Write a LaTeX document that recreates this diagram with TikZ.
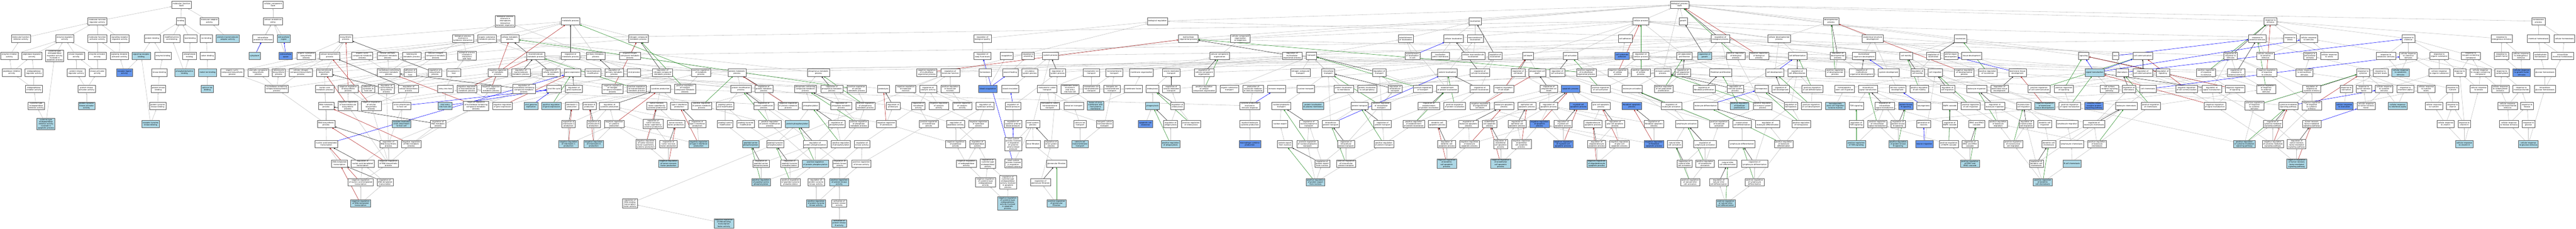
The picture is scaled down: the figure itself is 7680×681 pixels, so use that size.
\documentclass[tikz,border=0pt]{standalone}
\usepackage{fontspec}
\setmainfont{DejaVu Sans}
\usetikzlibrary{arrows.meta,backgrounds}
\definecolor{hitblue}{RGB}{173,216,230}
\definecolor{coreblue}{RGB}{100,149,237}
\definecolor{isagray}{RGB}{192,192,192}
\definecolor{negred}{RGB}{178,34,34}
\definecolor{posgreen}{RGB}{34,139,34}
\definecolor{partblue}{RGB}{0,0,255}
\tikzset{
  term/.style={draw=black!65, fill=white, line width=0.8pt, font=\fontsize{5.4}{6.3}\selectfont,
    align=center, inner xsep=3pt, inner ysep=1.5pt, minimum height=22pt},
  hit/.style={term, fill=hitblue},
  core/.style={term, fill=coreblue},
  isa/.style={draw=isagray, line width=0.85pt, -{Triangle[length=4.5pt,width=3.8pt]}},
  regs/.style={isa, draw=black!85},
  negreg/.style={isa, draw=negred},
  posreg/.style={isa, draw=posgreen},
  partof/.style={isa, draw=partblue},
}
\begin{document}
\begin{tikzpicture}[x=1pt,y=-1pt]
\useasboundingbox (0,0) rectangle (7680,681);
\begin{pgfonlayer}{background}
\fill[white] (0,0) rectangle (7680,681);
\end{pgfonlayer}
% molecular function
\node[term] (mf) at (541,14) {molecular\_function\\0ac6};
\node[term] (mfreg) at (290,63) {molecular function\\regulator activity};
\node[term] (binding) at (539,63) {binding};
\node[term] (mfadapt) at (624,63) {molecular adaptor\\activity};
\node[term] (mfinhib) at (62,115) {molecular function\\inhibitor activity};
\node[term] (enzreg) at (193,115) {enzyme regulator\\activity};
\node[term] (mfact) at (290,115) {molecular function\\activator activity};
\node[term] (sigrecreg) at (357,115) {signaling receptor\\regulator activity};
\node[term] (protbind) at (454,115) {protein binding};
\node[term] (modaa) at (512,115) {modified amino\\acid binding};
\node[term] (lipidbind) at (567,115) {lipid binding};
\node[term] (ionbind) at (615,115) {ion binding};
\node[hit] (protmacadapt) at (679,115) {protein-macromolecule\\adaptor activity};
\node[term] (enzinhib) at (28,166) {enzyme inhibitor\\activity};
\node[term] (pepreg) at (95,166) {peptidase regulator\\activity};
\node[term] (cyspepreg) at (163,166) {cysteine-type\\endopeptidase\\regulator activity\\involved in\\apoptotic process};
\node[term] (kinreg) at (227,166) {kinase regulator\\activity};
\node[term] (enzact) at (290,166) {enzyme activator\\activity};
\node[term] (sigrecact) at (356,166) {signaling receptor\\activator activity};
\node[hit] (sigrecbind) at (421,166) {signaling receptor\\binding};
\node[term] (enzbind) at (486,166) {enzyme binding};
\node[term] (phospholipid) at (565,166) {phospholipid\\binding};
\node[term] (cationbind) at (618,166) {cation binding};
\node[term] (pepinhib) at (35,216) {peptidase inhibitor\\activity};
\node[term] (endopepreg) at (101,216) {endopeptidase\\regulator activity};
\node[term] (protkinreg) at (227,216) {protein kinase\\regulator activity};
\node[term] (kinact) at (290,216) {kinase activator\\activity};
\node[core] (recligand) at (371,216) {receptor ligand\\activity};
\node[term] (kinbind) at (475,216) {kinase binding};
\node[hit] (psbind) at (550,216) {phosphatidylserine\\binding};
\node[hit] (metalion) at (619,216) {metal ion binding};
\node[term] (endopepinhib) at (101,265) {endopeptidase\\inhibitor activity};
\node[term] (protkinact) at (258,265) {protein kinase\\activator activity};
\node[term] (protkinbind) at (472,265) {protein kinase\\binding};
\node[hit] (calcium) at (618,265) {calcium ion\\binding};
\node[term] (cysendoinhib) at (108,315) {cysteine-type\\endopeptidase\\inhibitor activity};
\node[hit] (ptkact) at (258,315) {protein tyrosine\\kinase activator\\activity};
\node[term] (ptkbind) at (470,315) {protein tyrosine\\kinase binding};
\node[hit] (cysendoinhibapo) at (137,369) {cysteine-type\\endopeptidase\\inhibitor activity\\involved in\\apoptotic process};
\node[hit] (rtkbind) at (449,369) {receptor tyrosine\\kinase binding};
% cellular component
\node[term] (cc) at (814,14) {cellular\_component\\0ac6};
\node[term] (ccanat) at (814,63) {cellular anatomical\\entity};
\node[term] (intranat) at (784,115) {intracellular\\anatomical structure};
\node[hit] (extrareg) at (846,115) {extracellular\\region};
\node[hit] (cytoplasm) at (759,166) {cytoplasm};
\node[core] (extraspace) at (852,166) {extracellular\\space};
% biological process
\node[term] (biosyn) at (1031,115) {biosynthetic\\process};
\node[term] (bpinvsym) at (1380,115) {biological process\\involved in\\symbiotic interaction};
\node[term] (orgsubbio) at (913,166) {organic substance\\biosynthetic\\process};
\node[term] (cellbio) at (983,166) {cellular biosynthetic\\process};
\node[term] (orgcyc) at (1080,166) {organic cyclic\\compound metabolic\\process};
\node[term] (cellarom) at (1156,166) {cellular aromatic\\compound metabolic\\process};
\node[term] (hetero) at (1227,166) {heterocycle\\metabolic process};
\node[term] (cellnitro) at (1299,166) {cellular nitrogen\\compound metabolic\\process};
\node[term] (bpinvhost) at (1392,166) {biological process\\involved in\\interaction\\with host};
\node[term] (orgcycbio) at (692,216) {organic cyclic\\compound biosynthetic\\process};
\node[term] (aromcomp) at (770,216) {aromatic compound\\biosynthetic\\process};
\node[term] (heterobio) at (831,216) {heterocycle\\biosynthetic\\process};
\node[term] (cellnitrobio) at (897,216) {cellular nitrogen\\compound biosynthetic\\process};
\node[term] (macrobio) at (967,216) {macromolecule\\biosynthetic\\process};
\node[term] (nucleomet) at (1159,216) {nucleobase-containing\\compound metabolic\\process};
\node[term] (adhsym) at (1223,216) {adhesion of\\symbiont to\\host};
\node[term] (regbio) at (1297,216) {regulation of\\biosynthetic\\process};
\node[term] (movhost) at (1353,216) {movement in\\host};
\node[term] (nucleobio) at (825,265) {nucleobase-containing\\compound biosynthetic\\process};
\node[term] (nucmet) at (968,265) {nucleic acid\\metabolic process};
\node[term] (negregbio) at (1038,265) {negative regulation\\of biosynthetic\\process};
\node[term] (adhsymcell) at (1098,265) {adhesion of\\symbiont to\\host cell};
\node[term] (regmacbio) at (1152,265) {regulation of\\macromolecule\\biosynthetic\\process};
\node[term] (regcellbio) at (1218,265) {regulation of\\cellular biosynthetic\\process};
\node[term] (entryhost) at (1328,265) {entry into host};
\node[term] (negregmacmet) at (1392,265) {negative regulation\\of macromolecule\\metabolic process};
\node[term] (rnamet) at (972,315) {RNA metabolic\\process};
\node[term] (negregmacbio) at (1037,315) {negative regulation\\of macromolecule\\biosynthetic\\process};
\node[term] (negregcellbio) at (1107,315) {negative regulation\\of cellular\\biosynthetic\\process};
\node[term] (virionattach) at (1198,315) {virion attachment\\to host cell};
\node[hit] (viralentry) at (1327,315) {viral entry\\into host cell};
\node[term] (negregnuc) at (1419,315) {negative regulation\\of nucleobase-containing\\compound metabolic\\process};
\node[term] (rnabio) at (972,369) {RNA biosynthetic\\process};
\node[hit] (recvirion) at (1197,369) {receptor-mediated\\virion attachment\\to host cell};
\node[term] (regrnamet) at (1306,369) {regulation of\\RNA metabolic\\process};
\node[term] (nucatemp) at (973,429) {nucleic acid-templated\\transcription};
\node[term] (regrnabio) at (1158,429) {regulation of\\RNA biosynthetic\\process};
\node[term] (negregrnamet) at (1226,429) {negative regulation\\of RNA metabolic\\process};
\node[term] (dnatemp) at (1012,487) {DNA-templated\\transcription};
\node[term] (regnucatemp) at (1081,487) {regulation of\\nucleic acid-templated\\transcription};
\node[term] (negregrnabio) at (1158,487) {negative regulation\\of RNA biosynthetic\\process};
\node[term] (negregnucatemp) at (1075,543) {negative regulation\\of nucleic acid-templated\\transcription};
\node[term] (regdnatemp) at (1148,543) {regulation of\\DNA-templated\\transcription};
\node[hit] (negregdnatemp) at (1075,606) {negative regulation\\of DNA-templated\\transcription};
\node[term] (bpinter) at (1506,63) {biological process\\involved in\\interspecies\\interaction\\between organisms};
\node[term] (metab) at (1701,63) {metabolic process};
\node[term] (orgsubmet) at (1452,115) {organic substance\\metabolic process};
\node[term] (cellmet) at (1520,115) {cellular metabolic\\process};
\node[term] (nitromet) at (1903,115) {nitrogen compound\\metabolic process};
\node[term] (macromet) at (1597,166) {macromolecule\\metabolic process};
\node[term] (regmet) at (1701,166) {regulation of\\metabolic process};
\node[term] (primmet) at (1776,166) {primary metabolic\\process};
\node[term] (orgnitro) at (1878,166) {organonitrogen\\compound metabolic\\process};
\node[term] (negregmet) at (1484,216) {negative regulation\\of metabolic\\process};
\node[term] (regmacmet) at (1553,216) {regulation of\\macromolecule\\metabolic process};
\node[term] (regcellmet) at (1643,216) {regulation of\\cellular metabolic\\process};
\node[term] (geneexpr) at (1707,216) {gene expression};
\node[term] (macromod) at (1768,216) {macromolecule\\modification};
\node[term] (regprimmet) at (1831,216) {regulation of\\primary metabolic\\process};
\node[term] (viralproc) at (1890,216) {viral process};
\node[term] (regnitromet) at (1975,216) {regulation of\\nitrogen compound\\metabolic process};
\node[term] (posregmet) at (2090,216) {positive regulation\\of metabolic\\process};
\node[term] (protmet) at (2197,216) {protein metabolic\\process};
\node[term] (negregcellmet) at (1464,265) {negative regulation\\of cellular\\metabolic process};
\node[term] (regnucleomet) at (1562,265) {regulation of\\nucleobase-containing\\compound metabolic\\process};
\node[term] (virallife) at (1652,265) {viral life cycle};
\node[term] (reggeneexpr) at (1711,265) {regulation of\\gene expression};
\node[term] (negregnitro) at (1826,265) {negative regulation\\of nitrogen\\compound metabolic\\process};
\node[term] (posregmacmet) at (1898,265) {positive regulation\\of macromolecule\\metabolic process};
\node[term] (cytprod) at (1969,265) {cytokine production};
\node[term] (posregnitro) at (2042,265) {positive regulation\\of nitrogen\\compound metabolic\\process};
\node[term] (protmod) at (2209,265) {protein modification\\process};
\node[term] (neggeneexpr) at (1498,315) {negative regulation\\of gene expression};
\node[hit] (viralgenome) at (1583,315) {viral genome\\replication};
\node[hit] (posgeneexpr) at (1644,315) {positive regulation\\of gene expression};
\node[term] (il1prod) at (1705,315) {interleukin-1\\production};
\node[term] (il6prod) at (1757,315) {interleukin-6\\production};
\node[term] (regcyt) at (1817,315) {regulation of\\cytokine production};
\node[term] (tnfsfprod) at (1958,315) {tumor necrosis\\factor superfamily\\cytokine production};
\node[term] (ifn2prod) at (2025,315) {type II interferon\\production};
\node[term] (posregprotmet) at (2092,315) {positive regulation\\of protein metabolic\\process};
\node[term] (peptidylaa) at (2162,315) {peptidyl-amino\\acid modification};
\node[term] (regil1) at (1695,369) {regulation of\\interleukin-1\\production};
\node[term] (regil6) at (1770,369) {regulation of\\interleukin-6\\production};
\node[term] (negregcyt) at (1831,369) {negative regulation\\of cytokine\\production};
\node[term] (regtnfsf) at (1947,369) {regulation of\\tumor necrosis\\factor superfamily\\cytokine production};
\node[term] (tnfprod) at (2015,369) {tumor necrosis\\factor production};
\node[term] (regifn2) at (2079,369) {regulation of\\type II interferon\\production};
\node[term] (peptidylser) at (2162,369) {peptidyl-serine\\modification};
\node[hit] (negil1) at (1695,429) {negative regulation\\of interleukin-1\\production};
\node[hit] (negil6) at (1770,429) {negative regulation\\of interleukin-6\\production};
\node[term] (negtnfsf) at (1925,429) {negative regulation\\of tumor necrosis\\factor superfamily\\cytokine production};
\node[term] (regtnf) at (1993,429) {regulation of\\tumor necrosis\\factor production};
\node[hit] (negifn2) at (2083,429) {negative regulation\\of type II interferon\\production};
\node[hit] (negtnf) at (1993,487) {negative regulation\\of tumor necrosis\\factor production};
\node[term] (regdnabind) at (1878,606) {regulation of\\DNA-binding\\transcription\\factor activity};
\node[hit] (negdnabind) at (2158,665) {negative regulation\\of DNA-binding\\transcription\\factor activity};
\node[term] (regbioqual) at (2929,115) {regulation of\\biological quality};
\node[term] (regbodyfluid) at (2929,166) {regulation of\\body fluid levels};
\node[term] (coag) at (3001,166) {coagulation};
\node[term] (phosphomet) at (2440,216) {phosphorus metabolic\\process};
\node[term] (negregmulti) at (2763,216) {negative regulation\\of multicellular\\organismal process};
\node[term] (regmolfunc) at (2833,216) {regulation of\\molecular function};
\node[term] (hemostasis) at (2937,216) {hemostasis};
\node[term] (woundheal) at (3012,216) {wound healing};
\node[term] (regprotmet) at (2277,265) {regulation of\\protein metabolic\\process};
\node[term] (phoscont) at (2401,265) {phosphate-containing\\compound metabolic\\process};
\node[term] (regphosmet) at (2480,265) {regulation of\\phosphorus metabolic\\process};
\node[term] (posregcellmet) at (2554,265) {positive regulation\\of cellular\\metabolic process};
\node[term] (proteolysis) at (2634,265) {proteolysis};
\node[term] (negregmolfunc) at (2700,265) {negative regulation\\of molecular\\function};
\node[term] (regcatal) at (2767,265) {regulation of\\catalytic activity};
\node[term] (posregmolfunc) at (2833,265) {positive regulation\\of molecular\\function};
\node[core] (bloodcoag) at (2945,265) {blood coagulation};
\node[term] (bloodcirc) at (3012,265) {blood circulation};
\node[term] (regprotmod) at (2277,315) {regulation of\\protein modification\\process};
\node[term] (negregprotmet) at (2350,315) {negative regulation\\of protein metabolic\\process};
\node[term] (phosphorylation) at (2417,315) {phosphorylation};
\node[term] (regphosphmet) at (2508,315) {regulation of\\phosphate metabolic\\process};
\node[term] (posregphosmet) at (2580,315) {positive regulation\\of phosphorus\\metabolic process};
\node[term] (regproteolysis) at (2663,315) {regulation of\\proteolysis};
\node[term] (regtransf) at (2738,315) {regulation of\\transferase\\activity};
\node[term] (negregcatal) at (2799,315) {negative regulation\\of catalytic\\activity};
\node[term] (posregcatal) at (2869,315) {positive regulation\\of catalytic\\activity};
\node[term] (reghydro) at (2937,315) {regulation of\\hydrolase activity};
\node[term] (peptidyltyrmod) at (2223,369) {peptidyl-tyrosine\\modification};
\node[term] (posregprotmod) at (2295,369) {positive regulation\\of protein modification\\process};
\node[hit] (protphos) at (2377,369) {protein phosphorylation};
\node[term] (regphosph) at (2495,369) {regulation of\\phosphorylation};
\node[term] (posregphosphmet) at (2560,369) {positive regulation\\of phosphate\\metabolic process};
\node[term] (negregproteolysis) at (2642,369) {negative regulation\\of proteolysis};
\node[term] (posregtransf) at (2769,369) {positive regulation\\of transferase\\activity};
\node[term] (regpeptidase) at (2849,369) {regulation of\\peptidase activity};
\node[term] (negreghydro) at (2917,369) {negative regulation\\of hydrolase\\activity};
\node[hit] (pepserphos) at (2238,429) {peptidyl-serine\\phosphorylation};
\node[term] (peptyrphos) at (2311,429) {peptidyl-tyrosine\\phosphorylation};
\node[term] (regprotphos) at (2430,429) {regulation of\\protein phosphorylation};
\node[term] (posregphosph) at (2507,429) {positive regulation\\of phosphorylation};
\node[term] (regkinase) at (2570,429) {regulation of\\kinase activity};
\node[term] (negregpeptidase) at (2849,429) {negative regulation\\of peptidase\\activity};
\node[term] (regendopep) at (2914,429) {regulation of\\endopeptidase\\activity};
\node[term] (regpepserphos) at (2269,487) {regulation of\\peptidyl-serine\\phosphorylation};
\node[term] (regpeptyrphos) at (2354,487) {regulation of\\peptidyl-tyrosine\\phosphorylation};
\node[hit] (posregprotphos) at (2431,487) {positive regulation\\of protein phosphorylation};
\node[term] (regprotkin) at (2504,487) {regulation of\\protein kinase\\activity};
\node[term] (posregkinase) at (2568,487) {positive regulation\\of kinase activity};
\node[term] (negregendopep) at (2881,487) {negative regulation\\of endopeptidase\\activity};
\node[term] (regcyspep) at (2945,487) {regulation of\\cysteine-type\\endopeptidase\\activity};
\node[hit] (posregpepserphos) at (2269,543) {positive regulation\\of peptidyl-serine\\phosphorylation};
\node[term] (posregpeptyrphos) at (2357,543) {positive regulation\\of peptidyl-tyrosine\\phosphorylation};
\node[term] (regptk) at (2433,543) {regulation of\\protein tyrosine\\kinase activity};
\node[hit] (posregprotkin) at (2502,543) {positive regulation\\of protein kinase\\activity};
\node[term] (negregcyspep) at (2938,543) {negative regulation\\of cysteine-type\\endopeptidase\\activity};
\node[term] (regcyspepapo) at (3005,543) {regulation of\\cysteine-type\\endopeptidase\\activity involved\\in apoptotic\\process};
\node[hit] (posregptk) at (2433,606) {positive regulation\\of protein tyrosine\\kinase activity};
\node[term] (actprotkin) at (2502,606) {activation of\\protein kinase\\activity};
\node[hit] (negregcyspepapo) at (3004,606) {negative regulation\\of cysteine-type\\endopeptidase\\activity involved\\in apoptotic\\process};
\node[hit] (actprotkinB) at (2502,665) {activation of\\protein kinase\\B activity};
\node[term] (bioreg) at (3451,63) {biological regulation};
\node[term] (multicell) at (3543,115) {multicellular\\organismal process};
\node[term] (ccorgbio) at (3698,115) {cellular component\\organization\\or biogenesis};
\node[term] (respwound) at (3065,166) {response to\\wounding};
\node[term] (sysproc) at (3132,166) {system process};
\node[term] (ccorg) at (3636,166) {cellular component\\organization};
\node[term] (circsys) at (3070,216) {circulatory\\system process};
\node[term] (regsys) at (3153,216) {regulation of\\system process};
\node[term] (monoiontr) at (3254,216) {monoatomic ion\\transport};
\node[term] (transmemtr) at (3322,216) {transmembrane\\transport};
\node[term] (memorg) at (3403,216) {membrane organization};
\node[term] (vesicle) at (3492,216) {vesicle-mediated\\transport};
\node[term] (regccorg) at (3590,216) {regulation of\\cellular component\\organization};
\node[term] (monocattr) at (3122,265) {monoatomic cation\\transport};
\node[term] (memfusviral) at (3190,265) {membrane fusion\\involved in\\viral entry\\into host cell};
\node[term] (monoiontm) at (3254,265) {monoatomic ion\\transmembrane\\transport};
\node[term] (inorgiontm) at (3315,265) {inorganic ion\\transmembrane\\transport};
\node[term] (memfusion) at (3379,265) {membrane fusion};
\node[term] (endocytosis) at (3436,265) {endocytosis};
\node[term] (regvesicle) at (3492,265) {regulation of\\vesicle-mediated\\transport};
\node[term] (posregccorg) at (3590,265) {positive regulation\\of cellular\\component organization};
\node[term] (orgsubtr) at (3665,265) {organic substance\\transport};
\node[term] (prodmolmed) at (3736,265) {production of\\molecular mediator\\of immune response};
\node[term] (immresp) at (3806,265) {immune response};
\node[term] (regbp) at (3020,315) {regulation of\\blood pressure};
\node[term] (monocattm) at (3130,315) {monoatomic cation\\transmembrane\\transport};
\node[term] (metaliontr) at (3201,315) {metal ion transport};
\node[hit] (fusvirus) at (3266,315) {fusion of virus\\membrane with\\host plasma\\membrane};
\node[hit] (phagocytosis) at (3436,315) {phagocytosis};
\node[term] (regendo) at (3510,315) {regulation of\\endocytosis};
\node[term] (cytprodimm) at (3726,315) {cytokine production\\involved in\\immune response};
\node[term] (nucleocyto) at (3820,315) {nucleocytoplasmic\\transport};
\node[term] (regsysbp) at (3020,369) {regulation of\\systemic arterial\\blood pressure};
\node[term] (renalsys) at (3079,369) {renal system\\process};
\node[term] (calciontr) at (3220,369) {calcium ion\\transport};
\node[term] (inorgcattm) at (3293,369) {inorganic cation\\transmembrane\\transport};
\node[core] (apocellclear) at (3415,369) {apoptotic cell\\clearance};
\node[term] (regphago) at (3490,369) {regulation of\\phagocytosis};
\node[term] (posregendo) at (3551,369) {positive regulation\\of endocytosis};
\node[term] (myeloidcyt) at (3726,369) {myeloid leukocyte\\cytokine production};
\node[term] (nucexport) at (3816,369) {nuclear export};
\node[term] (renalsysbp) at (3021,429) {renal system\\process involved\\in regulation\\of systemic\\arterial blood\\pressure};
\node[term] (renalfilt) at (3080,429) {renal filtration};
\node[term] (regrenal) at (3134,429) {regulation of\\renal system\\process};
\node[hit] (calciontm) at (3220,429) {calcium ion\\transmembrane\\transport};
\node[hit] (posregphago) at (3490,429) {positive regulation\\of phagocytosis};
\node[core] (macrocyt) at (3726,429) {macrophage cytokine\\production};
\node[term] (renalblvol) at (3021,487) {renal system\\process involved\\in regulation\\of blood volume};
\node[term] (glomfilt) at (3150,487) {glomerular filtration};
\node[term] (regglom) at (3102,543) {regulation of\\glomerular filtration};
\node[hit] (posregglom) at (3150,606) {positive regulation\\of glomerular\\filtration};
\node[term] (localization) at (4398,63) {localization};
\node[term] (estloc) at (4191,115) {establishment\\of localization};
\node[term] (cellloc) at (4333,115) {cellular localization};
\node[term] (macroloc) at (4398,115) {macromolecule\\localization};
\node[term] (regmulti) at (3852,166) {regulation of\\multicellular\\organismal process};
\node[term] (transport) at (3910,166) {transport};
\node[term] (estlocincell) at (4211,166) {establishment\\of localization\\in cell};
\node[term] (locmem) at (4294,166) {localization\\within membrane};
\node[term] (cellmacroloc) at (4392,166) {cellular macromolecule\\localization};
\node[term] (regloc) at (4458,166) {regulation of\\localization};
\node[term] (celldeath) at (4555,166) {cell death};
\node[term] (nitrotr) at (3877,216) {nitrogen compound\\transport};
\node[term] (intratr) at (3960,216) {intracellular\\transport};
\node[term] (regtransport) at (4112,216) {regulation of\\transport};
\node[term] (protloc) at (4315,216) {protein localization};
\node[term] (regcellloc) at (4412,216) {regulation of\\cellular localization};
\node[term] (regcelldeath) at (4526,216) {regulation of\\cell death};
\node[term] (pcd) at (4583,216) {programmed cell\\death};
\node[term] (nuctr) at (3893,265) {nuclear transport};
\node[term] (protlocmem) at (4006,265) {protein localization\\to membrane};
\node[term] (protloccp) at (4076,265) {protein localization\\to cell periphery};
\node[term] (regintratr) at (4159,265) {regulation of\\intracellular\\transport};
\node[term] (posregtr) at (4242,265) {positive regulation\\of transport};
\node[term] (estprotloc) at (4315,265) {establishment\\of protein localization};
\node[term] (regprotloc) at (4412,265) {regulation of\\protein localization};
\node[term] (negregcelldeath) at (4483,265) {negative regulation\\of cell death};
\node[term] (regpcd) at (4618,265) {regulation of\\programmed cell\\death};
\node[hit] (protlocpm) at (3915,315) {protein localization\\to plasma membrane};
\node[term] (prottr) at (4053,315) {protein transport};
\node[term] (posregintratr) at (4118,315) {positive regulation\\of intracellular\\transport};
\node[term] (regestprotloc) at (4260,315) {regulation of\\establishment\\of protein localization};
\node[term] (posregprotloc) at (4337,315) {positive regulation\\of protein localization};
\node[term] (negregpcd) at (4412,315) {negative regulation\\of programmed\\cell death};
\node[term] (leukapo) at (4484,315) {leukocyte apoptotic\\process};
\node[term] (epiapo) at (4552,315) {epithelial cell\\apoptotic process};
\node[term] (regapo) at (4617,315) {regulation of\\apoptotic process};
\node[term] (regnucleocyto) at (3902,369) {regulation of\\nucleocytoplasmic\\transport};
\node[term] (intraprottr) at (3967,369) {intracellular\\protein transport};
\node[term] (regprottr) at (4122,369) {regulation of\\protein transport};
\node[term] (posregestprotloc) at (4215,369) {positive regulation\\of establishment\\of protein localization};
\node[term] (dcapo) at (4285,369) {dendritic cell\\apoptotic process};
\node[term] (regleukapo) at (4378,369) {regulation of\\leukocyte apoptotic\\process};
\node[term] (endoapo) at (4441,369) {endothelial\\cell apoptotic\\process};
\node[term] (regepiapo) at (4523,369) {regulation of\\epithelial cell\\apoptotic process};
\node[core] (negregapo) at (4590,369) {negative regulation\\of apoptotic\\process};
\node[term] (protexport) at (3831,429) {protein export\\from nucleus};
\node[term] (posregnucleocyto) at (3898,429) {positive regulation\\of nucleocytoplasmic\\transport};
\node[term] (regintraprottr) at (4013,429) {regulation of\\intracellular\\protein transport};
\node[term] (posregprottr) at (4126,429) {positive regulation\\of protein transport};
\node[term] (regdcapo) at (4313,429) {regulation of\\dendritic cell\\apoptotic process};
\node[term] (negregleukapo) at (4381,429) {negative regulation\\of leukocyte\\apoptotic process};
\node[term] (regendoapo) at (4474,429) {regulation of\\endothelial\\cell apoptotic\\process};
\node[term] (negregepiapo) at (4536,429) {negative regulation\\of epithelial\\cell apoptotic\\process};
\node[term] (regprotexport) at (3942,487) {regulation of\\protein export\\from nucleus};
\node[term] (posregintraprottr) at (4013,487) {positive regulation\\of intracellular\\protein transport};
\node[hit] (negregdcapo) at (4313,487) {negative regulation\\of dendritic\\cell apoptotic\\process};
\node[hit] (negregendoapo) at (4474,487) {negative regulation\\of endothelial\\cell apoptotic\\process};
\node[hit] (posregprotexport) at (3922,543) {positive regulation\\of protein export\\from nucleus};
\node[term] (bp) at (5007,14) {biological\_process\\0ac6};
\node[term] (cellproc) at (4892,63) {cellular process};
\node[term] (growth) at (5018,63) {growth};
\node[term] (celladh) at (4845,115) {cell adhesion};
\node[term] (regbioproc) at (5129,115) {regulation of\\biological process};
\node[term] (celldevproc) at (5304,115) {cellular developmental\\process};
\node[term] (cellact) at (4682,166) {cell activation};
\node[core] (cellsub) at (4836,166) {cell-substrate\\adhesion};
\node[term] (regcellproc) at (4892,166) {regulation of\\cellular process};
\node[term] (cellpopprolif) at (5022,166) {cell population\\proliferation};
\node[hit] (reggrowth) at (5082,166) {regulation of\\growth};
\node[term] (posregbio) at (5175,166) {positive regulation\\of biological\\process};
\node[term] (negregbio2) at (5244,166) {negative regulation\\of biological\\process};
\node[term] (celldiff) at (5359,166) {cell differentiation};
\node[term] (regcellact) at (4643,216) {regulation of\\cell activation};
\node[term] (posregmulti) at (4729,216) {positive regulation\\of multicellular\\organismal process};
\node[term] (negregcellproc) at (4823,216) {negative regulation\\of cellular\\process};
\node[term] (posregcellproc) at (4892,216) {positive regulation\\of cellular\\process};
\node[term] (immsys) at (4957,216) {immune system\\process};
\node[term] (regcellpop) at (5017,216) {regulation of\\cell population\\proliferation};
\node[term] (fibprolif) at (5130,216) {fibroblast proliferation};
\node[term] (celldev) at (5291,216) {cell development};
\node[term] (regcelldiff) at (5358,216) {regulation of\\cell differentiation};
\node[core] (apoproc) at (4682,265) {apoptotic process};
\node[term] (posregcellact) at (4772,265) {positive regulation\\of cell activation};
\node[term] (leukact) at (4866,265) {leukocyte activation};
\node[term] (posregcellpop) at (4960,265) {positive regulation\\of cell population\\proliferation};
\node[term] (regfibprolif) at (5080,265) {regulation of\\fibroblast proliferation};
\node[term] (regimmsys) at (5173,265) {regulation of\\immune system\\process};
\node[term] (hemopoiesis) at (5252,265) {hemopoiesis};
\node[term] (regcelldev) at (5309,265) {regulation of\\cell development};
\node[term] (posregcelldiff) at (5403,265) {positive regulation\\of cell differentiation};
\node[core] (myeloidapo) at (4706,315) {myeloid cell\\apoptotic process};
\node[term] (glialapo) at (4773,315) {glial cell apoptotic\\process};
\node[core] (fibapo) at (4865,315) {fibroblast apoptotic\\process};
\node[term] (regleukact) at (4983,315) {regulation of\\leukocyte activation};
\node[term] (leukdiff) at (5085,315) {leukocyte differentiation};
\node[hit] (posregfibprolif) at (5186,315) {positive regulation\\of fibroblast\\proliferation};
\node[term] (posregimmsys) at (5255,315) {positive regulation\\of immune system\\process};
\node[term] (reghemo) at (5339,315) {regulation of\\hemopoiesis};
\node[term] (posregcelldev) at (5400,315) {positive regulation\\of cell development};
\node[term] (regmyeloidapo) at (4660,369) {regulation of\\myeloid cell\\apoptotic process};
\node[term] (oligoapo) at (4749,369) {oligodendrocyte\\apoptotic process};
\node[term] (regglialapo) at (4815,369) {regulation of\\glial cell apoptotic\\process};
\node[term] (regfibapo) at (4931,369) {regulation of\\fibroblast apoptotic\\process};
\node[term] (lymphact) at (5028,369) {lymphocyte activation};
\node[term] (posregleukact) at (5125,369) {positive regulation\\of leukocyte\\activation};
\node[term] (mononucdiff) at (5193,369) {mononuclear\\cell differentiation};
\node[term] (regleukdiff) at (5270,369) {regulation of\\leukocyte differentiation};
\node[term] (posreghemo) at (5370,369) {positive regulation\\of hemopoiesis};
\node[core] (negregmyeloidapo) at (4660,429) {negative regulation\\of myeloid cell\\apoptotic process};
\node[term] (regoligoapo) at (4760,429) {regulation of\\oligodendrocyte\\apoptotic process};
\node[term] (negregglialapo) at (4828,429) {negative regulation\\of glial cell\\apoptotic process};
\node[core] (negregfibapo) at (4931,429) {negative regulation\\of fibroblast\\apoptotic process};
\node[term] (nkact) at (4993,429) {natural killer\\cell activation};
\node[term] (reglymphact) at (5083,429) {regulation of\\lymphocyte activation};
\node[term] (lymphdiff) at (5193,429) {lymphocyte differentiation};
\node[term] (posregleukdiff) at (5318,429) {positive regulation\\of leukocyte\\differentiation};
\node[hit] (negregoligoapo) at (4760,487) {negative regulation\\of oligodendrocyte\\apoptotic process};
\node[term] (regnkact) at (5022,487) {regulation of\\natural killer\\cell activation};
\node[term] (posreglymphact) at (5083,487) {positive regulation\\of lymphocyte\\activation};
\node[term] (nkdiff) at (5151,487) {natural killer\\cell differentiation};
\node[term] (reglymphdiff) at (5231,487) {regulation of\\lymphocyte differentiation};
\node[term] (posregnkact) at (5039,543) {positive regulation\\of natural killer\\cell activation};
\node[term] (regnkdiff) at (5124,543) {regulation of\\natural killer\\cell differentiation};
\node[term] (posreglymphdiff) at (5231,543) {positive regulation\\of lymphocyte\\differentiation};
\node[hit] (posregnkdiff) at (5145,606) {positive regulation\\of natural killer\\cell differentiation};
\node[term] (devproc) at (5459,63) {developmental\\process};
\node[term] (anatdev) at (5583,115) {anatomical structure\\development};
\node[term] (locomotion) at (5845,115) {locomotion};
\node[term] (regdevproc) at (5479,166) {regulation of\\developmental\\process};
\node[term] (multidev) at (5557,166) {multicellular\\organism development};
\node[term] (cellmotility) at (5683,166) {cell motility};
\node[term] (regloco) at (5764,166) {regulation of\\locomotion};
\node[term] (animalorgan) at (5816,166) {animal organ\\development};
\node[term] (tissuedev) at (5878,166) {tissue development};
\node[term] (signaling) at (6212,166) {signaling};
\node[term] (posregdev) at (5471,216) {positive regulation\\of developmental\\process};
\node[term] (regmultidev) at (5550,216) {regulation of\\multicellular\\organismal development};
\node[term] (sysdev) at (5631,216) {system development};
\node[term] (regcellmot) at (5717,216) {regulation of\\cell motility};
\node[term] (cellmig) at (5770,216) {cell migration};
\node[term] (negregdev) at (5856,216) {negative regulation\\of developmental\\process};
\node[term] (posregloco) at (5926,216) {positive regulation\\of locomotion};
\node[term] (biomineral) at (6015,216) {biomineral tissue\\development};
\node[hit] (sigtrans) at (6245,216) {signal transduction};
\node[term] (hemstem) at (5499,265) {hematopoietic\\stem cell migration};
\node[term] (intrasig) at (5569,265) {intracellular\\signal transduction};
\node[term] (nervdev) at (5657,265) {nervous system\\development};
\node[term] (posregcellmot) at (5722,265) {positive regulation\\of cell motility};
\node[term] (regcellmig) at (5806,265) {regulation of\\cell migration};
\node[term] (leukmig) at (5893,265) {leukocyte migration};
\node[term] (regbiomin) at (5961,265) {regulation of\\biomineral tissue\\development};
\node[term] (posregcellcomm) at (6079,265) {positive regulation\\of cell communication};
\node[term] (posregsig) at (6153,265) {positive regulation\\of signaling};
\node[hit] (hemstembm) at (5472,315) {hematopoietic\\stem cell migration\\to bone marrow};
\node[term] (torsig) at (5534,315) {TOR signaling};
\node[term] (regintrasig) at (5619,315) {regulation of\\intracellular\\signal transduction};
\node[core] (pkbsig) at (5682,315) {protein kinase\\B signaling};
\node[term] (neurogenesis) at (5735,315) {neurogenesis};
\node[term] (mapk) at (5813,315) {MAPK cascade};
\node[term] (posregcellmig) at (5875,315) {positive regulation\\of cell migration};
\node[term] (regleukmig) at (5947,315) {regulation of\\leukocyte migration};
\node[term] (mononucmig) at (6033,315) {mononuclear\\cell migration};
\node[hit] (negregbiomin) at (6096,315) {negative regulation\\of biomineral\\tissue development};
\node[term] (posregsigtrans) at (6171,315) {positive regulation\\of signal transduction};
\node[core] (enzlinked) at (6243,315) {enzyme-linked\\receptor protein\\signaling pathway};
\node[term] (regtor) at (5534,369) {regulation of\\TOR signaling};
\node[term] (posregintrasig) at (5597,369) {positive regulation\\of intracellular\\signal transduction};
\node[term] (regpkb) at (5659,369) {regulation of\\protein kinase\\B signaling};
\node[term] (genneur) at (5735,369) {generation of\\neurons};
\node[term] (regmapk) at (5813,369) {regulation of\\MAPK cascade};
\node[term] (erk) at (5893,369) {ERK1 and ERK2\\cascade};
\node[term] (posregleukmig) at (5957,369) {positive regulation\\of leukocyte\\migration};
\node[term] (regmononucmig) at (6041,369) {regulation of\\mononuclear\\cell migration};
\node[term] (dcmig) at (6096,369) {dendritic cell\\migration};
\node[term] (lymphmig) at (6163,369) {lymphocyte migration};
\node[term] (regleukchem) at (6243,369) {regulation of\\leukocyte chemotaxis};
\node[hit] (posregtor) at (5534,429) {positive regulation\\of TOR signaling};
\node[hit] (posregpkb) at (5659,429) {positive regulation\\of protein kinase\\B signaling};
\node[core] (neuronmig) at (5737,429) {neuron migration};
\node[term] (posregmapk) at (5810,429) {positive regulation\\of MAPK cascade};
\node[term] (regerk) at (5873,429) {regulation of\\ERK1 and ERK2\\cascade};
\node[term] (posregmononucmig) at (6002,429) {positive regulation\\of mononuclear\\cell migration};
\node[term] (dcchem) at (6108,429) {dendritic cell\\chemotaxis};
\node[term] (lymphchem) at (6176,429) {lymphocyte chemotaxis};
\node[term] (posregleukchem) at (6252,429) {positive regulation\\of leukocyte\\chemotaxis};
\node[hit] (posregerk) at (5873,487) {positive regulation\\of ERK1 and\\ERK2 cascade};
\node[term] (regdcchem) at (6071,487) {regulation of\\dendritic cell\\chemotaxis};
\node[hit] (bcellchem) at (6177,487) {B cell chemotaxis};
\node[hit] (posregdcchem) at (6090,543) {positive regulation\\of dendritic\\cell chemotaxis};
\node[term] (respstim) at (6769,63) {response to\\stimulus};
\node[term] (respext) at (6730,115) {response to\\external stimulus};
\node[term] (respstress) at (6827,115) {response to\\stress};
\node[term] (cellrespstim) at (6883,115) {cellular response\\to stimulus};
\node[term] (taxis) at (6307,166) {taxis};
\node[term] (cellcomm) at (6388,166) {cell communication};
\node[term] (regrespstim) at (6650,166) {regulation of\\response to\\stimulus};
\node[term] (cellrespext) at (6754,166) {cellular response\\to external\\stimulus};
\node[term] (respextra) at (6887,166) {response to\\extracellular\\stimulus};
\node[term] (cellrespstress) at (6944,166) {cellular response\\to stress};
\node[term] (chemotaxis) at (6327,216) {chemotaxis};
\node[term] (regcellcomm) at (6388,216) {regulation of\\cell communication};
\node[term] (regsig) at (6448,216) {regulation of\\signaling};
\node[term] (posregrespstim) at (6577,216) {positive regulation\\of response\\to stimulus};
\node[term] (regrespext) at (6667,216) {regulation of\\response to\\external stimulus};
\node[term] (negregrespstim) at (6758,216) {negative regulation\\of response\\to stimulus};
\node[term] (cellrespextra) at (6870,216) {cellular response\\to extracellular\\stimulus};
\node[term] (cellsurf) at (6289,265) {cell surface\\receptor signaling\\pathway};
\node[term] (regchemotaxis) at (6347,265) {regulation of\\chemotaxis};
\node[term] (cellchem) at (6404,265) {cell chemotaxis};
\node[term] (negregcellcomm) at (6519,265) {negative regulation\\of cell communication};
\node[term] (regsigtrans) at (6594,265) {regulation of\\signal transduction};
\node[term] (negregsig) at (6663,265) {negative regulation\\of signaling};
\node[term] (posregrespext) at (6756,265) {positive regulation\\of response\\to external\\stimulus};
\node[term] (regrespcyt) at (6892,265) {regulation of\\response to\\cytokine stimulus};
\node[term] (respstarv) at (6995,265) {response to\\starvation};
\node[term] (leukchem) at (6339,315) {leukocyte chemotaxis};
\node[term] (posregchem) at (6412,315) {positive regulation\\of chemotaxis};
\node[term] (negregsigtrans) at (6603,315) {negative regulation\\of signal transduction};
\node[term] (posregrespcyt) at (6721,315) {positive regulation\\of response\\to cytokine\\stimulus};
\node[term] (cytsig) at (6822,315) {cytokine-mediated\\signaling pathway};
\node[term] (negregrespcyt) at (6892,315) {negative regulation\\of response\\to cytokine\\stimulus};
\node[core] (cellrespstarv) at (6989,315) {cellular response\\to starvation};
\node[term] (regcytsig) at (6776,369) {regulation of\\cytokine-mediated\\signaling pathway};
\node[term] (tnfsig) at (6892,369) {tumor necrosis\\factor-mediated\\signaling pathway};
\node[hit] (posregcytsig) at (6691,429) {positive regulation\\of cytokine-mediated\\signaling pathway};
\node[term] (negregcytsig) at (6776,429) {negative regulation\\of cytokine-mediated\\signaling pathway};
\node[term] (regtnfsig) at (6847,429) {regulation of\\tumor necrosis\\factor-mediated\\signaling pathway};
\node[hit] (negregtnfsig) at (6847,487) {negative regulation\\of tumor necrosis\\factor-mediated\\signaling pathway};
\node[term] (homeo) at (7568,63) {homeostatic\\process};
\node[term] (respchem) at (7180,115) {response to\\chemical};
\node[term] (respendo) at (7458,115) {response to\\endogenous stimulus};
\node[term] (chemhomeo) at (7568,115) {chemical homeostasis};
\node[term] (cellhomeo) at (7645,115) {cellular homeostasis};
\node[term] (respxeno) at (7113,166) {response to\\xenobiotic stimulus};
\node[term] (cellrespchem) at (7180,166) {cellular response\\to chemical\\stimulus};
\node[term] (resporg) at (7272,166) {response to\\organic substance};
\node[term] (respoxy) at (7366,166) {response to\\oxygen-containing\\compound};
\node[term] (respgf) at (7458,166) {response to\\growth factor};
\node[term] (cellrespendo) at (7516,166) {cellular response\\to endogenous\\stimulus};
\node[term] (carbhomeo) at (7574,166) {carbohydrate\\homeostasis};
\node[term] (intrachemhomeo) at (7640,166) {intracellular\\chemical homeostasis};
\node[term] (respcyt) at (7045,216) {response to\\cytokine};
\node[term] (respnutlev) at (7097,216) {response to\\nutrient levels};
\node[hit] (cellrespxeno) at (7157,216) {cellular response\\to xenobiotic\\stimulus};
\node[term] (cellresporg) at (7272,216) {cellular response\\to organic substance};
\node[term] (respketone) at (7333,216) {response to\\ketone};
\node[term] (cellrespoxy) at (7395,216) {cellular response\\to oxygen-containing\\compound};
\node[term] (respcarb) at (7459,216) {response to\\carbohydrate};
\node[core] (cellrespgf) at (7518,216) {cellular response\\to growth factor\\stimulus};
\node[term] (glucosehomeo) at (7587,216) {glucose homeostasis};
\node[term] (resptnf) at (7047,265) {response to\\tumor necrosis\\factor};
\node[term] (cellrespcyt) at (7108,265) {cellular response\\to cytokine\\stimulus};
\node[term] (respifna) at (7171,265) {response to\\interferon-alpha};
\node[term] (cellrespnutlev) at (7233,265) {cellular response\\to nutrient\\levels};
\node[term] (respnutrient) at (7312,265) {response to\\nutrient};
\node[term] (cellrespketone) at (7390,265) {cellular response\\to ketone};
\node[term] (cellrespcarb) at (7454,265) {cellular response\\to carbohydrate\\stimulus};
\node[term] (respmono) at (7517,265) {response to\\monosaccharide};
\node[term] (intraglucose) at (7587,265) {intracellular\\glucose homeostasis};
\node[term] (cellresptnf) at (7054,315) {cellular response\\to tumor necrosis\\factor};
\node[hit] (cellrespifna) at (7148,315) {cellular response\\to interferon-alpha};
\node[term] (cellrespnutrient) at (7256,315) {cellular response\\to nutrient};
\node[term] (respvitamin) at (7312,315) {response to\\vitamin};
\node[term] (cellrespmono) at (7476,315) {cellular response\\to monosaccharide\\stimulus};
\node[term] (resphexose) at (7534,315) {response to\\hexose};
\node[term] (cellrespvit) at (7291,369) {cellular response\\to vitamin};
\node[term] (respvitK) at (7347,369) {response to\\vitamin K};
\node[term] (cellresphexose) at (7480,369) {cellular response\\to hexose stimulus};
\node[term] (respglucose) at (7538,369) {response to\\glucose};
\node[hit] (cellrespvitK) at (7347,429) {cellular response\\to vitamin K};
\node[hit] (cellrespglucose) at (7538,429) {cellular response\\to glucose stimulus};
\begin{pgfonlayer}{background}
\foreach \kid/\up in {mfreg/mf, binding/mf, mfadapt/mf, mfinhib/mfreg, enzreg/mfreg, mfact/mfreg, sigrecreg/mfreg, protbind/binding, modaa/binding, lipidbind/binding, ionbind/binding, protmacadapt/mfadapt, enzinhib/mfinhib, enzinhib/enzreg, pepreg/enzreg, cyspepreg/enzreg, kinreg/enzreg, enzact/enzreg, enzact/mfact, sigrecact/mfact, sigrecact/sigrecreg, sigrecbind/protbind, enzbind/protbind, phospholipid/lipidbind, cationbind/ionbind, pepinhib/enzinhib, pepinhib/pepreg, endopepreg/pepreg, protkinreg/kinreg, kinact/kinreg, kinact/enzact, recligand/sigrecact, recligand/sigrecbind, kinbind/enzbind, psbind/modaa, psbind/phospholipid, metalion/cationbind, endopepinhib/pepinhib, endopepinhib/endopepreg, protkinact/protkinreg, protkinact/kinact, protkinbind/kinbind, calcium/metalion, cysendoinhib/endopepinhib, ptkact/protkinact, ptkbind/protkinbind, cysendoinhibapo/cysendoinhib, cysendoinhibapo/cyspepreg, rtkbind/ptkbind, rtkbind/sigrecbind,
  ccanat/cc, intranat/ccanat, extrareg/ccanat, cytoplasm/ccanat, extraspace/ccanat,
  biosyn/metab, orgsubbio/biosyn, cellbio/biosyn, orgsubbio/orgsubmet, cellbio/cellmet, orgcyc/orgsubmet, cellarom/cellmet, hetero/orgsubmet, cellnitro/nitromet, cellnitro/cellmet, orgcycbio/orgsubbio, orgcycbio/orgcyc, aromcomp/cellbio, aromcomp/cellarom, heterobio/cellbio, heterobio/hetero, cellnitrobio/cellbio, cellnitrobio/cellnitro, macrobio/biosyn, macrobio/macromet, nucleomet/orgcyc, nucleomet/cellarom, nucleomet/hetero, nucleomet/cellnitro, nucleobio/orgcycbio, nucleobio/aromcomp, nucleobio/heterobio, nucleobio/cellnitrobio, nucleobio/nucleomet, nucmet/nucleomet, nucmet/macromet, rnamet/nucmet, rnabio/rnamet, rnabio/nucleobio, rnabio/macrobio, nucatemp/rnabio, dnatemp/nucatemp, adhsym/bpinvsym, adhsymcell/adhsym, virionattach/adhsymcell, recvirion/virionattach, viralentry/entryhost, entryhost/movhost, movhost/bpinvhost, bpinvhost/bpinvsym, bpinvsym/bpinter,
  regmacbio/regbio, regcellbio/regbio, negregbio/regbio, negregmacbio/negregbio, negregmacbio/regmacbio, negregcellbio/negregbio, negregcellbio/regcellbio, regmacbio/regmacmet, regcellbio/regcellmet, negregbio/negregmet, negregmacbio/negregmacmet, negregcellbio/negregcellmet, regrnamet/regnucleomet, regrnabio/regrnamet, regrnabio/regcellbio, regrnabio/regmacbio, negregrnamet/regrnamet, negregrnamet/negregnuc, negregrnabio/negregrnamet, negregrnabio/regrnabio, negregrnabio/negregcellbio, negregrnabio/negregmacbio, regnucatemp/regrnabio, negregnucatemp/regnucatemp, negregnucatemp/negregrnabio, regdnatemp/regnucatemp, negregdnatemp/negregnucatemp, negregdnatemp/regdnatemp, negregnuc/regnucleomet, negregnuc/negregcellmet, regbio/regmet,
  orgsubmet/metab, cellmet/metab, cellmet/cellproc, nitromet/metab, macromet/orgsubmet, macromet/primmet, primmet/metab, orgnitro/nitromet, orgnitro/orgsubmet, regmet/regbioproc, regmacmet/regmet, regcellmet/regmet, regcellmet/regcellproc, negregmet/regmet, negregmet/negregbio2, regprimmet/regmet, regnitromet/regmet, posregmet/regmet, posregmet/posregbio, geneexpr/macromet, macromod/macromet, viralproc/bpinter, virallife/viralproc, neggeneexpr/reggeneexpr, neggeneexpr/negregmacmet, posgeneexpr/reggeneexpr, posgeneexpr/posregmacmet, reggeneexpr/regmacmet, negregmacmet/regmacmet, negregmacmet/negregmet, negregcellmet/regcellmet, negregcellmet/negregmet, regnucleomet/regcellmet, regnucleomet/regnitromet, negregnitro/regnitromet, negregnitro/negregmet, posregmacmet/regmacmet, posregmacmet/posregmet, posregnitro/regnitromet, posregnitro/posregmet, il1prod/cytprod, il6prod/cytprod, tnfsfprod/cytprod, ifn2prod/cytprod, regil1/regcyt, regil6/regcyt, negregcyt/regcyt, regtnfsf/regcyt, regifn2/regcyt, negil1/regil1, negil1/negregcyt, negil6/regil6, negil6/negregcyt, tnfprod/tnfsfprod, negtnfsf/regtnfsf, negtnfsf/negregcyt, regtnf/regtnfsf, negtnf/negtnfsf, negtnf/regtnf, negifn2/regifn2, negifn2/negregcyt, posregprotmet/posregmacmet, posregprotmet/regprotmet, peptidylser/peptidylaa, peptidylaa/protmod, protmod/macromod, protmod/protmet, negdnabind/regdnabind, regdnabind/regmolfunc,
  regbioqual/bioreg, regbodyfluid/regbioqual, hemostasis/regbodyfluid, bloodcoag/hemostasis, bloodcoag/coag, woundheal/respwound, coag/bp, phosphomet/cellmet, regmolfunc/bioreg, negregmulti/regmulti, negregmulti/negregbio2, protmet/macromet, protmet/orgnitro, regprotmet/regmacmet, regprotmet/regprimmet, phoscont/phosphomet, regphosmet/regcellmet, posregcellmet/regcellmet, posregcellmet/posregmet, proteolysis/protmet, negregmolfunc/regmolfunc, regcatal/regmolfunc, posregmolfunc/regmolfunc, regprotmod/regprotmet, negregprotmet/regprotmet, negregprotmet/negregmacmet, phosphorylation/phoscont, regphosphmet/regphosmet, posregphosmet/regphosmet, posregphosmet/posregcellmet, regproteolysis/regprotmet, regtransf/regcatal, negregcatal/regcatal, negregcatal/negregmolfunc, posregcatal/regcatal, posregcatal/posregmolfunc, reghydro/regcatal, peptidyltyrmod/peptidylaa, posregprotmod/regprotmod, posregprotmod/posregprotmet, protphos/phosphorylation, protphos/protmod, regphosph/regphosphmet, posregphosphmet/regphosphmet, posregphosphmet/posregphosmet, negregproteolysis/regproteolysis, negregproteolysis/negregprotmet, posregtransf/regtransf, posregtransf/posregcatal, regpeptidase/reghydro, regpeptidase/regproteolysis, negreghydro/reghydro, negreghydro/negregcatal, pepserphos/protphos, pepserphos/peptidylser, peptyrphos/protphos, peptyrphos/peptidyltyrmod, regprotphos/regphosph, regprotphos/regprotmod, posregphosph/regphosph, posregphosph/posregphosphmet, regkinase/regtransf, negregpeptidase/regpeptidase, negregpeptidase/negreghydro, negregpeptidase/negregproteolysis, regendopep/regpeptidase, regpepserphos/regprotphos, regpeptyrphos/regprotphos, posregprotphos/regprotphos, posregprotphos/posregphosph, posregprotphos/posregprotmod, regprotkin/regkinase, regprotkin/regprotphos, posregkinase/regkinase, posregkinase/posregtransf, negregendopep/negregpeptidase, negregendopep/regendopep, regcyspep/regendopep, posregpepserphos/regpepserphos, posregpepserphos/posregprotphos, posregpeptyrphos/regpeptyrphos, posregpeptyrphos/posregprotphos, regptk/regprotkin, posregprotkin/regprotkin, posregprotkin/posregkinase, negregcyspep/negregendopep, negregcyspep/regcyspep, regcyspepapo/regcyspep, posregptk/regptk, posregptk/posregprotkin, actprotkin/posregprotkin, negregcyspepapo/negregcyspep, negregcyspepapo/regcyspepapo, actprotkinB/actprotkin,
  bioreg/bp, multicell/bp, ccorgbio/cellproc, sysproc/multicell, ccorg/ccorgbio, respwound/respstress, circsys/sysproc, regsys/regmulti, monoiontr/transport, transmemtr/transport, memorg/ccorg, vesicle/transport, regccorg/regcellproc, bloodcirc/circsys, monocattr/monoiontr, memfusviral/memfusion, monoiontm/monoiontr, monoiontm/transmemtr, inorgiontm/transmemtr, memfusion/memorg, endocytosis/vesicle, regvesicle/regtransport, posregccorg/regccorg, orgsubtr/transport, prodmolmed/immsys, immresp/immsys, regbp/regsys, monocattm/monocattr, monocattm/monoiontm, metaliontr/monocattr, fusvirus/memfusviral, fusvirus/memfusion, phagocytosis/endocytosis, regendo/regvesicle, cytprodimm/prodmolmed, cytprodimm/cytprod, nucleocyto/nuctr, regsysbp/regbp, renalsys/sysproc, calciontr/metaliontr, inorgcattm/inorgiontm, inorgcattm/monocattm, apocellclear/phagocytosis, regphago/regendo, posregendo/regendo, myeloidcyt/cytprodimm, nucexport/nucleocyto, renalfilt/renalsys, regrenal/regsys, calciontm/calciontr, calciontm/inorgcattm, posregphago/regphago, macrocyt/myeloidcyt, renalblvol/renalsys, glomfilt/renalfilt, regglom/regrenal, posregglom/regglom, renalsysbp/renalsys,
  localization/bp, estloc/localization, cellloc/localization, cellloc/cellproc, macroloc/localization, regmulti/regbioproc, transport/estloc, estlocincell/estloc, locmem/cellloc, cellmacroloc/cellloc, cellmacroloc/macroloc, regloc/regbioproc, celldeath/cellproc, nitrotr/transport, intratr/transport, intratr/estlocincell, regtransport/regloc, protloc/macroloc, regcellloc/regloc, regcelldeath/regcellproc, pcd/celldeath, nuctr/intratr, protlocmem/protloc, protloccp/protloc, regintratr/regtransport, regintratr/regcellloc, posregtr/regtransport, estprotloc/protloc, estprotloc/estloc, regprotloc/regloc, negregcelldeath/regcelldeath, regpcd/regcelldeath, protlocpm/protlocmem, protlocpm/protloccp, prottr/transport, prottr/estprotloc, posregintratr/regintratr, posregintratr/posregtr, regestprotloc/regprotloc, posregprotloc/regprotloc, negregpcd/regpcd, negregpcd/negregcelldeath, leukapo/apoproc, epiapo/apoproc, regapo/regpcd, regnucleocyto/regintratr, intraprottr/intratr, intraprottr/prottr, regprottr/regtransport, regprottr/regestprotloc, posregestprotloc/regestprotloc, posregestprotloc/posregprotloc, dcapo/leukapo, regleukapo/regapo, endoapo/epiapo, regepiapo/regapo, negregapo/regapo, negregapo/negregpcd, protexport/nucexport, posregnucleocyto/regnucleocyto, regintraprottr/regintratr, regintraprottr/regprottr, posregprottr/regprottr, posregprottr/posregestprotloc, regdcapo/regleukapo, negregleukapo/regleukapo, negregleukapo/negregapo, regendoapo/regepiapo, negregepiapo/regepiapo, negregepiapo/negregapo, regprotexport/regnucleocyto, regprotexport/regintraprottr, posregintraprottr/regintraprottr, posregintraprottr/posregprottr, negregdcapo/regdcapo, negregdcapo/negregleukapo, negregendoapo/regendoapo, negregendoapo/negregepiapo, posregprotexport/regprotexport, posregprotexport/posregnucleocyto, posregprotexport/posregintraprottr,
  cellproc/bp, growth/bp, immsys/bp, celladh/cellproc, regbioproc/bioreg, celldevproc/cellproc, celldevproc/devproc, cellact/cellproc, cellsub/celladh, regcellproc/regbioproc, cellpopprolif/cellproc, reggrowth/regbioproc, posregbio/regbioproc, negregbio2/regbioproc, celldiff/celldevproc, regcellact/regcellproc, posregmulti/regmulti, posregmulti/posregbio, negregcellproc/regcellproc, negregcellproc/negregbio2, posregcellproc/regcellproc, posregcellproc/posregbio, regcellpop/regcellproc, fibprolif/cellpopprolif, celldev/celldevproc, regcelldiff/regcellproc, posregcellact/regcellact, posregcellact/posregcellproc, leukact/cellact, leukact/immsys, posregcellpop/regcellpop, posregcellpop/posregcellproc, regfibprolif/regcellpop, regimmsys/regbioproc, hemopoiesis/immsys, regcelldev/regcelldiff, posregcelldiff/regcelldiff, posregcelldiff/posregcellproc, myeloidapo/apoproc, glialapo/apoproc, fibapo/apoproc, regleukact/regcellact, regleukact/regimmsys, posregfibprolif/regfibprolif, posregfibprolif/posregcellpop, posregimmsys/regimmsys, posregimmsys/posregbio, reghemo/regimmsys, reghemo/regcelldiff, posregcelldev/regcelldev, posregcelldev/posregcelldiff, regmyeloidapo/regapo, oligoapo/glialapo, regglialapo/regapo, regfibapo/regapo, lymphact/leukact, posregleukact/regleukact, posregleukact/posregcellact, posregleukact/posregimmsys, mononucdiff/leukdiff, regleukdiff/reghemo, posreghemo/reghemo, posreghemo/posregimmsys, negregmyeloidapo/regmyeloidapo, negregmyeloidapo/negregapo, regoligoapo/regglialapo, negregglialapo/regglialapo, negregglialapo/negregapo, negregfibapo/regfibapo, negregfibapo/negregapo, nkact/lymphact, reglymphact/regleukact, lymphdiff/mononucdiff, posregleukdiff/regleukdiff, posregleukdiff/posreghemo, negregoligoapo/regoligoapo, negregoligoapo/negregglialapo, regnkact/reglymphact, posreglymphact/reglymphact, posreglymphact/posregleukact, nkdiff/lymphdiff, reglymphdiff/regleukdiff, posregnkact/regnkact, posregnkact/posreglymphact, regnkdiff/reglymphdiff, posreglymphdiff/reglymphdiff, posreglymphdiff/posregleukdiff, posregnkdiff/regnkdiff, posregnkdiff/posreglymphdiff, apoproc/pcd, leukdiff/celldiff,
  devproc/bp, anatdev/devproc, locomotion/bp, regdevproc/regbioproc, multidev/anatdev, multidev/multicell, cellmotility/locomotion, cellmotility/cellproc, regloco/regbioproc, animalorgan/anatdev, tissuedev/anatdev, signaling/bp, posregdev/regdevproc, posregdev/posregbio, regmultidev/regdevproc, regmultidev/regmulti, sysdev/anatdev, regcellmot/regloco, cellmig/cellmotility, negregdev/regdevproc, negregdev/negregbio2, posregloco/regloco, biomineral/tissuedev, hemstem/cellmig, intrasig/sigtrans, nervdev/sysdev, posregcellmot/regcellmot, posregcellmot/posregloco, regcellmig/regcellmot, leukmig/cellmig, leukmig/immsys, regbiomin/regdevproc, regbiomin/regmultidev, posregcellcomm/regcellcomm, posregsig/regsig, hemstembm/hemstem, torsig/intrasig, regintrasig/regsigtrans, pkbsig/intrasig, mapk/intrasig, posregcellmig/regcellmig, posregcellmig/posregcellmot, regleukmig/regcellmig, regleukmig/regimmsys, mononucmig/leukmig, negregbiomin/regbiomin, negregbiomin/negregdev, posregsigtrans/regsigtrans, posregsigtrans/posregsig, posregsigtrans/posregcellcomm, enzlinked/cellsurf, regtor/regintrasig, posregintrasig/regintrasig, posregintrasig/posregsigtrans, regpkb/regintrasig, regmapk/regintrasig, erk/mapk, posregleukmig/regleukmig, posregleukmig/posregcellmig, regmononucmig/regleukmig, dcmig/mononucmig, lymphmig/leukmig, regleukchem/regleukmig, regleukchem/regchemotaxis, posregtor/regtor, posregtor/posregintrasig, posregpkb/regpkb, posregpkb/posregintrasig, neuronmig/cellmig, posregmapk/regmapk, posregmapk/posregintrasig, regerk/regmapk, posregmononucmig/regmononucmig, posregmononucmig/posregleukmig, dcchem/dcmig, dcchem/leukchem, lymphchem/lymphmig, lymphchem/leukchem, posregleukchem/regleukchem, posregleukchem/posregchem, posregleukchem/posregleukmig, posregerk/regerk, posregerk/posregmapk, regdcchem/regmononucmig, regdcchem/regleukchem, bcellchem/lymphchem, posregdcchem/regdcchem, posregdcchem/posregmononucmig, posregdcchem/posregleukchem,
  respstim/bp, respext/respstim, respstress/respstim, cellrespstim/respstim, cellrespstim/cellproc, taxis/locomotion, cellcomm/cellproc, regrespstim/regbioproc, cellrespext/respext, cellrespext/cellrespstim, respextra/respext, cellrespstress/respstress, cellrespstress/cellrespstim, chemotaxis/taxis, regcellcomm/regcellproc, regsig/regbioproc, posregrespstim/regrespstim, posregrespstim/posregbio, regrespext/regrespstim, negregrespstim/regrespstim, negregrespstim/negregbio2, cellrespextra/respextra, cellrespextra/cellrespext, cellsurf/sigtrans, regchemotaxis/regrespext, cellchem/chemotaxis, negregcellcomm/regcellcomm, negregcellcomm/negregcellproc, regsigtrans/regsig, regsigtrans/regcellcomm, regsigtrans/regrespstim, negregsig/regsig, negregsig/negregbio2, posregrespext/regrespext, posregrespext/posregrespstim, regrespcyt/regrespstim, respstarv/respnutlev, leukchem/cellchem, leukchem/leukmig, posregchem/regchemotaxis, posregchem/posregrespext, negregsigtrans/regsigtrans, negregsigtrans/negregsig, negregsigtrans/negregcellcomm, posregrespcyt/regrespcyt, posregrespcyt/posregrespstim, cytsig/cellsurf, negregrespcyt/regrespcyt, negregrespcyt/negregrespstim, cellrespstarv/respstarv, cellrespstarv/cellrespnutlev, regcytsig/regsigtrans, regcytsig/regrespcyt, tnfsig/cytsig, posregcytsig/regcytsig, posregcytsig/posregrespcyt, posregcytsig/posregsigtrans, negregcytsig/regcytsig, negregcytsig/negregrespcyt, negregcytsig/negregsigtrans, regtnfsig/regcytsig, negregtnfsig/regtnfsig, negregtnfsig/negregcytsig,
  homeo/bp, respchem/respstim, respendo/respstim, chemhomeo/homeo, cellhomeo/homeo, respxeno/respchem, cellrespchem/respchem, cellrespchem/cellrespstim, resporg/respchem, respoxy/respchem, respgf/respendo, cellrespendo/respendo, carbhomeo/chemhomeo, intrachemhomeo/chemhomeo, intrachemhomeo/cellhomeo, respcyt/resporg, respnutlev/respextra, cellrespxeno/respxeno, cellrespxeno/cellrespchem, cellresporg/resporg, cellresporg/cellrespchem, respketone/resporg, respketone/respoxy, cellrespoxy/respoxy, cellrespoxy/cellrespchem, respcarb/respoxy, respcarb/resporg, cellrespgf/respgf, cellrespgf/cellrespendo, glucosehomeo/carbhomeo, resptnf/respcyt, cellrespcyt/respcyt, cellrespcyt/cellresporg, respifna/respcyt, cellrespnutlev/respnutlev, cellrespnutlev/cellrespextra, respnutrient/respnutlev, cellrespketone/respketone, cellrespketone/cellrespoxy, cellrespcarb/respcarb, cellrespcarb/cellrespoxy, respmono/respcarb, intraglucose/glucosehomeo, intraglucose/intrachemhomeo, cellresptnf/resptnf, cellresptnf/cellrespcyt, cellrespifna/respifna, cellrespifna/cellrespcyt, cellrespnutrient/respnutrient, cellrespnutrient/cellrespnutlev, respvitamin/respnutrient, cellrespmono/cellrespcarb, cellrespmono/respmono, resphexose/respmono, cellrespvit/respvitamin, cellrespvit/cellrespnutrient, respvitK/respvitamin, respvitK/respketone, cellresphexose/cellrespmono, cellresphexose/resphexose, respglucose/resphexose, cellrespvitK/cellrespvit, cellrespvitK/respvitK, cellrespvitK/cellrespketone, cellrespglucose/cellresphexose, cellrespglucose/respglucose, cellrespglucose/intraglucose}
  \draw[isa] (\kid) -- (\up);
\foreach \kid/\up in {regbio/biosyn, regmacbio/macrobio, regcellbio/cellbio, regrnamet/rnamet, regrnabio/rnabio, regnucatemp/nucatemp, regdnatemp/dnatemp, regnucleomet/nucleomet, regmet/metab, regnitromet/nitromet, regcellmet/cellmet, regmacmet/macromet, regprimmet/primmet, reggeneexpr/geneexpr, regil1/il1prod, regil6/il6prod, regcyt/cytprod, regtnfsf/tnfsfprod, regtnf/tnfprod, regifn2/ifn2prod, regprotmet/protmet, regprotmod/protmod, regphosmet/phosphomet, regphosphmet/phoscont, regphosph/phosphorylation, regprotphos/protphos, regpepserphos/pepserphos, regpeptyrphos/peptyrphos, regproteolysis/proteolysis, regsys/sysproc, regrenal/renalsys, regglom/glomfilt, regccorg/ccorg, regvesicle/vesicle, regendo/endocytosis, regphago/phagocytosis, regloc/localization, regcellloc/cellloc, regtransport/transport, regintratr/intratr, regprotloc/protloc, regestprotloc/estprotloc, regprottr/prottr, regintraprottr/intraprottr, regnucleocyto/nucleocyto, regprotexport/protexport, regcelldeath/celldeath, regpcd/pcd, regapo/apoproc, regleukapo/leukapo, regdcapo/dcapo, regepiapo/epiapo, regendoapo/endoapo, regmulti/multicell, regbioproc/bp, regcellproc/cellproc, reggrowth/growth, regcelldiff/celldiff, regcellact/cellact, regcellpop/cellpopprolif, regfibprolif/fibprolif, regimmsys/immsys, reghemo/hemopoiesis, regcelldev/celldev, regleukact/leukact, regleukdiff/leukdiff, reglymphdiff/lymphdiff, reglymphact/lymphact, regnkact/nkact, regnkdiff/nkdiff, regmyeloidapo/myeloidapo, regglialapo/glialapo, regoligoapo/oligoapo, regfibapo/fibapo, regdevproc/devproc, regmultidev/multidev, regcellmot/cellmotility, regloco/locomotion, regcellmig/cellmig, regleukmig/leukmig, regmononucmig/mononucmig, regdcchem/dcchem, regbiomin/biomineral, regtor/torsig, regintrasig/intrasig, regpkb/pkbsig, regmapk/mapk, regerk/erk, regrespstim/respstim, regcellcomm/cellcomm, regsig/signaling, regsigtrans/sigtrans, regchemotaxis/chemotaxis, regleukchem/leukchem, regrespext/respext, regcytsig/cytsig, regtnfsig/tnfsig, regrespcyt/respcyt}
  \draw[regs] (\kid) -- (\up);
\foreach \kid/\up in {negregbio/biosyn, negregcellbio/cellbio, negregmacbio/macrobio, negregnuc/nucleomet, negregrnamet/rnamet, negregrnabio/rnabio, negregnucatemp/nucatemp, negregdnatemp/dnatemp, negregmet/metab, negregcellmet/cellmet, negregmacmet/macromet, negregnitro/nitromet, neggeneexpr/geneexpr, negil1/il1prod, negil6/il6prod, negregcyt/cytprod, negtnfsf/tnfsfprod, negtnf/tnfprod, negifn2/ifn2prod, negregprotmet/protmet, negregproteolysis/proteolysis, negregmulti/multicell, negregcelldeath/celldeath, negregpcd/pcd, negregapo/apoproc, negregleukapo/leukapo, negregdcapo/dcapo, negregepiapo/epiapo, negregendoapo/endoapo, negregbio2/bp, negregcellproc/cellproc, negregmyeloidapo/myeloidapo, negregglialapo/glialapo, negregoligoapo/oligoapo, negregfibapo/fibapo, negregdev/devproc, negregbiomin/biomineral, negregrespstim/respstim, negregcellcomm/cellcomm, negregsig/signaling, negregsigtrans/sigtrans, negregcytsig/cytsig, negregtnfsig/tnfsig, negregrespcyt/respcyt}
  \draw[negreg] (\kid) -- (\up);
\foreach \kid/\up in {posregmet/metab, posregnitro/nitromet, posregmacmet/macromet, posgeneexpr/geneexpr, posregprotmet/protmet, posregprotmod/protmod, posregphosmet/phosphomet, posregphosphmet/phoscont, posregphosph/phosphorylation, posregprotphos/protphos, posregpepserphos/pepserphos, posregpeptyrphos/peptyrphos, posregcellmet/cellmet, posregglom/glomfilt, posregccorg/ccorg, posregendo/endocytosis, posregphago/phagocytosis, posregtr/transport, posregintratr/intratr, posregprotloc/protloc, posregestprotloc/estprotloc, posregprottr/prottr, posregintraprottr/intraprottr, posregnucleocyto/nucleocyto, posregprotexport/protexport, posregbio/bp, posregcellproc/cellproc, posregmulti/multicell, posregcelldiff/celldiff, posregcellact/cellact, posregcellpop/cellpopprolif, posregfibprolif/fibprolif, posregimmsys/immsys, posreghemo/hemopoiesis, posregcelldev/celldev, posregleukact/leukact, posregleukdiff/leukdiff, posreglymphdiff/lymphdiff, posreglymphact/lymphact, posregnkact/nkact, posregnkdiff/nkdiff, posregdev/devproc, posregloco/locomotion, posregcellmot/cellmotility, posregcellmig/cellmig, posregleukmig/leukmig, posregmononucmig/mononucmig, posregdcchem/dcchem, posregtor/torsig, posregintrasig/intrasig, posregpkb/pkbsig, posregmapk/mapk, posregerk/erk, posregsig/signaling, posregsigtrans/sigtrans, posregcellcomm/cellcomm, posregrespstim/respstim, posregrespext/respext, posregchem/chemotaxis, posregleukchem/leukchem, posregcytsig/cytsig, posregrespcyt/respcyt}
  \draw[posreg] (\kid) -- (\up);
\foreach \kid/\up in {cytoplasm/intranat, extraspace/extrareg, nucatemp/geneexpr, viralgenome/virallife, viralentry/virallife, virionattach/virallife, estlocincell/cellloc, intraprottr/protloc, bloodcoag/woundheal, regbp/bloodcirc, renalsysbp/regsysbp, renalblvol/regbodyfluid, cytprodimm/immresp, celldev/celldiff, leukdiff/hemopoiesis, sysdev/multidev, neurogenesis/nervdev, neuronmig/genneur, biomineral/animalorgan, sigtrans/signaling, sigtrans/cellcomm, sigtrans/cellrespstim, taxis/respext, chemotaxis/respchem, cellchem/cellrespchem, cytsig/cellrespcyt, tnfsig/cellresptnf}
  \draw[partof] (\kid) -- (\up);
\end{pgfonlayer}
\end{tikzpicture}
\end{document}
